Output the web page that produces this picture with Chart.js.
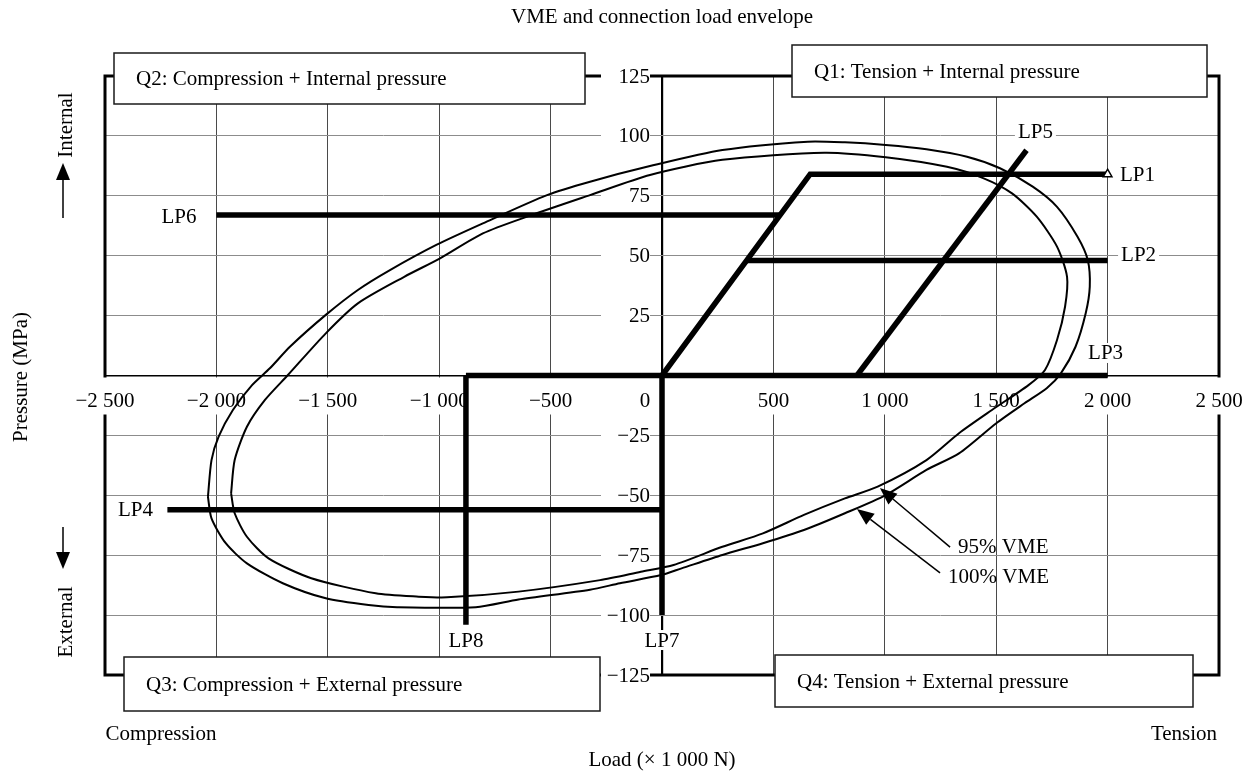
<!DOCTYPE html>
<html>
<head>
<meta charset="utf-8">
<title>VME and connection load envelope</title>
<script src="https://cdn.jsdelivr.net/npm/chart.js@4.4.1/dist/chart.umd.min.js"></script>
<style>
  html, body { margin: 0; padding: 0; background: #fff; }
  canvas { display: block; }
</style>
</head>
<body>
<canvas id="envelope" width="1250" height="771"></canvas>
<script>
// ---- axis ticks ----
const loadTicks = [-2500, -2000, -1500, -1000, -500, 0, 500, 1000, 1500, 2000, 2500];
const loadTickLabels = ['\u22122 500', '\u22122 000', '\u22121 500', '\u22121 000', '\u2212500', '0', '500', '1 000', '1 500', '2 000', '2 500'];
const pressureTicks = [125, 100, 75, 50, 25, -25, -50, -75, -100, -125];
const pressureTickLabels = ['125', '100', '75', '50', '25', '\u221225', '\u221250', '\u221275', '\u2212100', '\u2212125'];

// ---- 100% VME envelope (load x 1000 N, pressure MPa) ----
const vme100Load = [-2038, -2022, -1990, -1926, -1840, -1760, -1670, -1509, -1365, -1221, -1013, -804, -516, -323, -54, 271, 655, 821, 1004, 1187, 1369, 1517, 1664, 1773, 1865, 1911, 1920, 1902, 1856, 1791, 1728, 1627, 1499, 1333, 1187, 1004, 821, 637, 453, 271, 88, -4, -189, -323, -644, -836, -1189, -1317, -1509, -1702, -1863, -1958, -2022, -2038];
const vme100Pressure = [-50.6, -35.3, -25.5, -14.4, -4.0, 3.0, 12.0, 25.3, 35.7, 44.0, 54.5, 63.5, 75.3, 80.9, 87.4, 94.1, 97.6, 97.3, 96.2, 94.4, 91.3, 86.5, 78.8, 70.4, 57.9, 48.2, 37.1, 26.1, 12.0, 1.0, -5.2, -11.6, -20.0, -32.5, -39.4, -49.9, -57.5, -64.5, -70.0, -74.9, -80.5, -83.3, -86.7, -89.4, -93.5, -96.7, -96.7, -95.8, -93.0, -86.7, -78.4, -70.0, -59.6, -50.6];

// ---- 95% VME envelope ----
const vme95Load = [-1934, -1918, -1863, -1782, -1679, -1509, -1365, -1157, -996, -804, -596, -323, -54, 271, 729, 1004, 1279, 1444, 1571, 1682, 1773, 1818, 1809, 1773, 1719, 1645, 1481, 1333, 1187, 968, 821, 637, 453, 271, 52, -95, -278, -644, -965, -1092, -1285, -1574, -1766, -1863, -1918, -1934];
const vme95Pressure = [-49.2, -35.3, -21.4, -10.2, 0.2, 17.6, 30.1, 41.2, 48.9, 59.3, 66.6, 75.3, 83.7, 90.0, 93.0, 91.1, 87.1, 82.3, 76.0, 66.3, 53.8, 41.2, 28.7, 14.8, 2.3, -4.0, -14.4, -24.1, -35.3, -46.4, -51.3, -58.2, -65.9, -71.5, -79.1, -81.9, -85.4, -90.2, -92.6, -92.3, -90.9, -84.6, -76.3, -67.3, -57.5, -49.2];

// ---- load paths LP1..LP8 ----
const lp1Load = [0, 665, 2000],  lp1Pressure = [0, 84, 84];
const lp2Load = [380, 2000],     lp2Pressure = [48, 48];
const lp3Load = [-880, 2000],    lp3Pressure = [0, 0];
const lp4Load = [-2220, 0],      lp4Pressure = [-56, -56];
const lp5Load = [875, 1636],     lp5Pressure = [0, 94];
const lp6Load = [-2000, 530],    lp6Pressure = [67, 67];
const lp7Load = [0, 0],          lp7Pressure = [0, -100];
const lp8Load = [-880, -880],    lp8Pressure = [0, -104];

// label anchors for the load paths (label centre, in axis units)
const lpNames = ['LP1', 'LP2', 'LP3', 'LP4', 'LP5', 'LP6', 'LP7', 'LP8'];
const lpLabelLoad = [2134, 2139, 1991, -2363, 1676, -2168, 0, -880];
const lpLabelPressure = [83.7, 50.7, 9.4, -56.1, 101.8, 66.3, -110.4, -110.4];

// envelope call-outs: arrow tip, arrow tail, label start
const calloutNames = ['95% VME', '100% VME'];
const calloutTipLoad = [978, 875],    calloutTipPressure = [-47, -55.7];
const calloutTailLoad = [1293, 1248], calloutTailPressure = [-71.6, -82.4];
const calloutTextLoad = [1329, 1284], calloutTextPressure = [-71.2, -83.7];

// quadrant captions
const quadrantNames = [
  'Q1: Tension + Internal pressure',
  'Q2: Compression + Internal pressure',
  'Q3: Compression + External pressure',
  'Q4: Tension + External pressure'
];

const FONT = '21px "Liberation Serif", "Times New Roman", "DejaVu Serif", serif';

const pts = (xs, ys) => xs.map((v, i) => ({ x: v, y: ys[i] }));

function envelopeSet(label, xs, ys) {
  return {
    label, data: pts(xs, ys), showLine: true, fill: false,
    borderColor: '#000', borderWidth: 2, pointRadius: 0, tension: 0.25
  };
}
function pathSet(label, xs, ys, extra) {
  return Object.assign({
    label, data: pts(xs, ys), showLine: true, fill: false,
    borderColor: '#000', borderWidth: 5.5, pointRadius: 0, tension: 0,
    borderCapStyle: 'butt', borderJoinStyle: 'miter'
  }, extra || {});
}

function arrow(ctx, x1, y1, x2, y2, len, half) {
  const ang = Math.atan2(y2 - y1, x2 - x1);
  const bx = x2 - Math.cos(ang) * len, by = y2 - Math.sin(ang) * len;
  ctx.beginPath();
  ctx.moveTo(x1, y1);
  ctx.lineTo(bx, by);
  ctx.stroke();
  ctx.beginPath();
  ctx.moveTo(x2, y2);
  ctx.lineTo(bx + Math.sin(ang) * half, by - Math.cos(ang) * half);
  ctx.lineTo(bx - Math.sin(ang) * half, by + Math.cos(ang) * half);
  ctx.closePath();
  ctx.fill();
}

function labelWithBackdrop(ctx, text, cx, cy, pad) {
  const w = ctx.measureText(text).width;
  ctx.fillStyle = '#fff';
  ctx.fillRect(cx - w / 2 - pad, cy - 10, w + pad * 2, 20);
  ctx.fillStyle = '#000';
  ctx.textAlign = 'center';
  ctx.fillText(text, cx, cy + 1);
}

const decor = {
  id: 'decor',
  beforeDatasetsDraw(chart) {
    const { ctx, chartArea: a, scales: { x, y } } = chart;
    ctx.save();
    // outer frame
    ctx.strokeStyle = '#000';
    ctx.lineWidth = 3;
    ctx.strokeRect(a.left, a.top, a.right - a.left, a.bottom - a.top);

    ctx.font = FONT;
    ctx.textBaseline = 'middle';
    const x0 = x.getPixelForValue(0);
    const y0 = y.getPixelForValue(0);

    // pressure labels sit just left of the zero-load axis
    pressureTicks.forEach((v, i) => {
      const py = y.getPixelForValue(v);
      ctx.fillStyle = '#fff';
      ctx.fillRect(x0 - 61, py - 10, 49, 20);
      ctx.fillStyle = '#000';
      ctx.textAlign = 'right';
      ctx.fillText(pressureTickLabels[i], x0 - 12, py + 1);
    });

    // load labels sit just under the zero-pressure axis
    loadTicks.forEach((v, i) => {
      let px = x.getPixelForValue(v);
      if (v === 0) px -= 17;
      const t = loadTickLabels[i];
      const w = ctx.measureText(t).width;
      ctx.fillStyle = '#fff';
      ctx.fillRect(px - w / 2 - 3, y0 + 2, w + 6, 37);
      ctx.fillStyle = '#000';
      ctx.textAlign = 'center';
      ctx.fillText(t, px, y0 + 26);
    });
    ctx.restore();
  },
  afterDatasetsDraw(chart) {
    const { ctx, chartArea: a, scales: { x, y } } = chart;
    ctx.save();
    ctx.font = FONT;
    ctx.textBaseline = 'middle';

    // load path names
    lpNames.forEach((n, i) => {
      labelWithBackdrop(ctx, n, x.getPixelForValue(lpLabelLoad[i]), y.getPixelForValue(lpLabelPressure[i]), 3);
    });

    // envelope call-outs
    ctx.strokeStyle = '#000';
    ctx.fillStyle = '#000';
    ctx.lineWidth = 1.5;
    calloutNames.forEach((n, i) => {
      arrow(ctx,
        x.getPixelForValue(calloutTailLoad[i]), y.getPixelForValue(calloutTailPressure[i]),
        x.getPixelForValue(calloutTipLoad[i]), y.getPixelForValue(calloutTipPressure[i]), 17, 7);
      ctx.textAlign = 'left';
      ctx.fillText(n, x.getPixelForValue(calloutTextLoad[i]), y.getPixelForValue(calloutTextPressure[i]) + 1);
    });

    // quadrant caption boxes over the frame
    const boxes = [
      { l: a.left + 687, t: a.top - 31, w: 415, h: 52 },
      { l: a.left + 9,   t: a.top - 23, w: 471, h: 51 },
      { l: a.left + 19,  t: a.bottom - 18, w: 476, h: 54 },
      { l: a.left + 670, t: a.bottom - 20, w: 418, h: 52 }
    ];
    boxes.forEach((b, i) => {
      ctx.fillStyle = '#fff';
      ctx.fillRect(b.l, b.t, b.w, b.h);
      ctx.strokeStyle = '#1a1a1a';
      ctx.lineWidth = 1.5;
      ctx.strokeRect(b.l, b.t, b.w, b.h);
      ctx.fillStyle = '#000';
      ctx.textAlign = 'left';
      ctx.fillText(quadrantNames[i], b.l + 22, b.t + b.h / 2 + 1);
    });
    ctx.restore();
  },
  afterDraw(chart) {
    const { ctx, chartArea: a } = chart;
    const cx = (a.left + a.right) / 2;
    ctx.save();
    ctx.font = FONT;
    ctx.fillStyle = '#000';
    ctx.strokeStyle = '#000';
    ctx.textBaseline = 'middle';
    ctx.textAlign = 'center';

    ctx.fillText('VME and connection load envelope', cx, 17);
    ctx.fillText('Load (\u00d7 1 000 N)', cx, 760);
    ctx.fillText('Compression', 161, 734);
    ctx.fillText('Tension', 1184, 734);

    const vert = (t, px, py) => {
      ctx.save();
      ctx.translate(px, py);
      ctx.rotate(-Math.PI / 2);
      ctx.fillText(t, 0, 0);
      ctx.restore();
    };
    vert('Pressure (MPa)', 21, 377);
    vert('Internal', 66, 125);
    vert('External', 66, 622);

    ctx.lineWidth = 1.5;
    arrow(ctx, 63, 218, 63, 163, 17, 7);
    arrow(ctx, 63, 527, 63, 569, 17, 7);
    ctx.restore();
  }
};

new Chart(document.getElementById('envelope'), {
  type: 'scatter',
  data: {
    datasets: [
      envelopeSet('100% VME', vme100Load, vme100Pressure),
      envelopeSet('95% VME', vme95Load, vme95Pressure),
      pathSet('LP1', lp1Load, lp1Pressure, {
        pointRadius: [0, 0, 5], pointStyle: 'triangle',
        pointBackgroundColor: '#fff', pointBorderColor: '#000', pointBorderWidth: 1.5
      }),
      pathSet('LP2', lp2Load, lp2Pressure),
      pathSet('LP3', lp3Load, lp3Pressure),
      pathSet('LP4', lp4Load, lp4Pressure),
      pathSet('LP5', lp5Load, lp5Pressure),
      pathSet('LP6', lp6Load, lp6Pressure),
      pathSet('LP7', lp7Load, lp7Pressure),
      pathSet('LP8', lp8Load, lp8Pressure)
    ]
  },
  options: {
    responsive: false,
    animation: false,
    events: [],
    layout: { padding: { left: 105, right: 31, top: 76, bottom: 96 } },
    plugins: { legend: { display: false }, tooltip: { enabled: false }, title: { display: false } },
    scales: {
      x: {
        type: 'linear', position: 'bottom', min: -2500, max: 2500,
        ticks: { display: false, stepSize: 500 },
        border: { display: false },
        grid: {
          drawTicks: false,
          color: c => (c.tick && c.tick.value === 0) ? '#000' : '#4a4a4a',
          lineWidth: c => (c.tick && c.tick.value === 0) ? 2.2 : 1
        }
      },
      y: {
        type: 'linear', position: 'left', min: -125, max: 125,
        ticks: { display: false, stepSize: 25 },
        border: { display: false },
        grid: {
          drawTicks: false,
          color: c => (c.tick && c.tick.value === 0) ? '#000' : '#8c8c8c',
          lineWidth: c => (c.tick && c.tick.value === 0) ? 1.6 : 1
        }
      }
    }
  },
  plugins: [decor]
});
</script>
</body>
</html>
